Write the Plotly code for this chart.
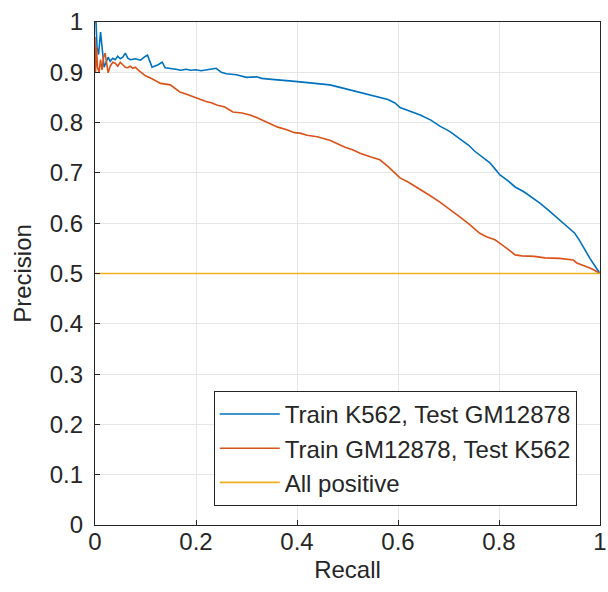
import plotly.graph_objects as go

blue_recall = [0, 0.002, 0.004, 0.007, 0.011, 0.014, 0.018, 0.022, 0.026, 0.03, 0.035, 0.04, 0.045, 0.05, 0.055, 0.06, 0.065, 0.07, 0.08, 0.09, 0.095, 0.1, 0.104, 0.113, 0.125, 0.133, 0.139, 0.15, 0.16, 0.17, 0.18, 0.19, 0.2, 0.21, 0.22, 0.24, 0.25, 0.26, 0.28, 0.3, 0.32, 0.33, 0.35, 0.366, 0.385, 0.406, 0.43, 0.465, 0.485, 0.505, 0.535, 0.564, 0.58, 0.594, 0.604, 0.62, 0.644, 0.665, 0.683, 0.703, 0.723, 0.74, 0.752, 0.767, 0.782, 0.792, 0.802, 0.818, 0.832, 0.85, 0.865, 0.881, 0.9, 0.921, 0.935, 0.95, 0.96, 0.97, 0.98, 0.99, 1.0]
blue_precision = [1.0, 1.0, 0.95, 0.935, 0.98, 0.95, 0.91, 0.92, 0.93, 0.922, 0.928, 0.925, 0.932, 0.927, 0.93, 0.938, 0.928, 0.925, 0.927, 0.924, 0.929, 0.932, 0.934, 0.91, 0.915, 0.92, 0.909, 0.908, 0.906, 0.904, 0.906, 0.904, 0.905, 0.903, 0.905, 0.908, 0.9, 0.897, 0.895, 0.89, 0.891, 0.888, 0.886, 0.885, 0.883, 0.881, 0.879, 0.875, 0.87, 0.865, 0.858, 0.851, 0.846, 0.839, 0.83, 0.824, 0.815, 0.805, 0.793, 0.782, 0.768, 0.755, 0.743, 0.732, 0.72, 0.708, 0.696, 0.684, 0.672, 0.662, 0.652, 0.64, 0.624, 0.606, 0.594, 0.58, 0.565, 0.547, 0.53, 0.515, 0.5]

orange_recall = [0, 0.001, 0.003, 0.005, 0.008, 0.011, 0.014, 0.017, 0.02, 0.023, 0.026, 0.03, 0.035, 0.04, 0.045, 0.05, 0.055, 0.06, 0.065, 0.07, 0.075, 0.08, 0.085, 0.093, 0.1, 0.109, 0.12, 0.13, 0.149, 0.16, 0.168, 0.18, 0.19, 0.2, 0.21, 0.22, 0.232, 0.241, 0.257, 0.265, 0.273, 0.291, 0.307, 0.32, 0.331, 0.345, 0.362, 0.38, 0.395, 0.406, 0.42, 0.44, 0.465, 0.48, 0.495, 0.51, 0.525, 0.545, 0.564, 0.58, 0.594, 0.604, 0.62, 0.64, 0.66, 0.683, 0.7, 0.723, 0.742, 0.762, 0.775, 0.792, 0.802, 0.812, 0.822, 0.832, 0.845, 0.87, 0.891, 0.92, 0.947, 0.954, 0.968, 0.98, 0.99, 1.0]
orange_precision = [0.97, 0.9, 0.95, 0.91, 0.9, 0.925, 0.905, 0.93, 0.938, 0.915, 0.899, 0.912, 0.92, 0.918, 0.912, 0.92, 0.915, 0.91, 0.909, 0.912, 0.908, 0.91, 0.905, 0.899, 0.893, 0.889, 0.884, 0.878, 0.875, 0.866, 0.861, 0.857, 0.853, 0.849, 0.846, 0.842, 0.839, 0.835, 0.831, 0.826, 0.821, 0.819, 0.815, 0.81, 0.805, 0.798, 0.791, 0.786, 0.78, 0.779, 0.775, 0.772, 0.765, 0.758, 0.751, 0.746, 0.739, 0.732, 0.726, 0.713, 0.7, 0.69, 0.682, 0.67, 0.657, 0.642, 0.63, 0.612, 0.597, 0.58, 0.573, 0.567, 0.56, 0.553, 0.545, 0.537, 0.535, 0.534, 0.531, 0.53, 0.527, 0.521, 0.516, 0.511, 0.506, 0.5]

baseline_recall = [0, 1]
baseline_precision = [0.5, 0.5]

series_names = ["Train K562, Test GM12878", "Train GM12878, Test K562", "All positive"]
colors = ["#0072BD", "#D95319", "#EDB120"]

x_ticks = [0, 0.2, 0.4, 0.6, 0.8, 1]
x_tick_labels = ["0", "0.2", "0.4", "0.6", "0.8", "1"]
y_ticks = [0, 0.1, 0.2, 0.3, 0.4, 0.5, 0.6, 0.7, 0.8, 0.9, 1]
y_tick_labels = ["0", "0.1", "0.2", "0.3", "0.4", "0.5", "0.6", "0.7", "0.8", "0.9", "1"]

fig = go.Figure()
for xs, ys, name, c in [
    (blue_recall, blue_precision, series_names[0], colors[0]),
    (orange_recall, orange_precision, series_names[1], colors[1]),
    (baseline_recall, baseline_precision, series_names[2], colors[2]),
]:
    fig.add_trace(go.Scatter(x=xs, y=ys, mode="lines", name=name,
                             line=dict(color=c, width=1.6)))

font_family = "Liberation Sans, Arial, Helvetica, sans-serif"
txt = "#262626"
axis_common = dict(
    showline=True, linecolor=txt, linewidth=1.2, mirror=True,
    ticks="inside", ticklen=5, tickcolor=txt, tickwidth=1,
    showgrid=True, gridcolor="#e6e6e6", gridwidth=1,
    zeroline=False, automargin=False,
    tickfont=dict(family=font_family, size=24, color=txt),
    title_font=dict(family=font_family, size=24, color=txt),
)

fig.update_layout(
    width=608, height=592,
    margin=dict(l=95, r=8, t=22, b=67),
    paper_bgcolor="white", plot_bgcolor="white",
    font=dict(family=font_family, size=24, color=txt),
    xaxis=dict(range=[0, 1], tickvals=x_ticks, ticktext=x_tick_labels,
               title=dict(text="Recall", standoff=7), ticklabelstandoff=-5, **axis_common),
    yaxis=dict(range=[0, 1], tickvals=y_ticks, ticktext=y_tick_labels,
               title=dict(text="Precision", standoff=11), ticklabelstandoff=6, **axis_common),
    legend=dict(x=0.954, y=0.038, xanchor="right", yanchor="bottom",
                bgcolor="white", bordercolor=txt, borderwidth=1,
                font=dict(family=font_family, size=24, color=txt),
                tracegroupgap=0, itemwidth=60),
    showlegend=True,
)

fig.write_html("out.html")
